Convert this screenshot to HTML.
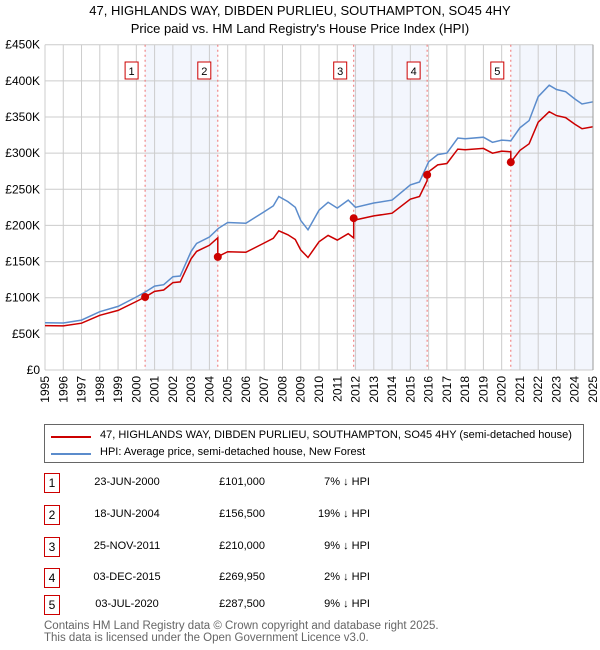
<!DOCTYPE html>
<html><head><meta charset="utf-8"><style>
body{margin:0;background:#fff;font-family:"Liberation Sans","DejaVu Sans",sans-serif;}
#wrap{position:relative;width:600px;height:650px;overflow:hidden}
.t{position:absolute;font-size:12px;color:#000;white-space:nowrap}
.box{position:absolute;width:14px;height:18px;border:1px solid #c00;font-size:12px;text-align:center;line-height:18px}
</style></head><body><div id="wrap">
<div class="t" style="left:0;width:600px;text-align:center;top:3px;font-size:13px">47, HIGHLANDS WAY, DIBDEN PURLIEU, SOUTHAMPTON, SO45 4HY</div>
<div class="t" style="left:0;width:600px;text-align:center;top:21px;font-size:13px">Price paid vs. HM Land Registry's House Price Index (HPI)</div>
<svg id="chart" width="600" height="420" style="position:absolute;left:0;top:0"></svg>
<div style="position:absolute;left:44px;top:424px;width:538px;height:37px;border:1px solid #666"></div>
<div style="position:absolute;left:51px;top:436px;width:40px;height:2px;background:#c00"></div>
<div class="t" style="left:100px;top:429px;font-size:11px">47, HIGHLANDS WAY, DIBDEN PURLIEU, SOUTHAMPTON, SO45 4HY (semi-detached house)</div>
<div style="position:absolute;left:51px;top:453px;width:40px;height:2px;background:#5b8ccc"></div>
<div class="t" style="left:100px;top:446px;font-size:11px">HPI: Average price, semi-detached house, New Forest</div>
<div id="table"></div>
<div class="t" style="left:44px;top:620px;color:#666;font-size:11.5px;line-height:12px">Contains HM Land Registry data © Crown copyright and database right 2025.<br>This data is licensed under the Open Government Licence v3.0.</div>
</div>
<script>
const hpiYears=[1995,1996,1997,1998,1999,2000,2000.5,2001,2001.5,2002,2002.4,2003,2003.3,2004,2004.5,2005,2006,2007,2007.5,2007.8,2008.3,2008.7,2009,2009.4,2010,2010.5,2011,2011.6,2012,2013,2014,2015,2015.5,2016,2016.5,2017,2017.6,2018,2019,2019.5,2020,2020.5,2021,2021.5,2022,2022.6,2023,2023.5,2024,2024.4,2025];
const hpiValues=[65.5,65,69,80.7,88,101,108,116,118,129,130,164,175,184,196,204,203,219,227,240,233,225,207,194,221,232,224,235,225,231,235,256,260,288,298,300,321,320,322,315,318,317,335,345,378,394,388,385,375,368,371];
const saleLabels=["1","2","3","4","5"];
const saleDates=["23-JUN-2000","18-JUN-2004","25-NOV-2011","03-DEC-2015","03-JUL-2020"];
const saleYears=[2000.48,2004.46,2011.9,2015.92,2020.5];
const salePrices=[101000,156500,210000,269950,287500];
const salePct=["7%","19%","9%","2%","9%"];
const yTicks=[0,50,100,150,200,250,300,350,400,450];
const xTicks=[1995,1996,1997,1998,1999,2000,2001,2002,2003,2004,2005,2006,2007,2008,2009,2010,2011,2012,2013,2014,2015,2016,2017,2018,2019,2020,2021,2022,2023,2024,2025];

const X0=45,X1=593,Y0=370,Y1=44.7;
const xs=y=>X0+(y-1995)/30*(X1-X0);
const ys=v=>Y0-v/450*(Y0-Y1);
const NS="http://www.w3.org/2000/svg";
const svg=document.getElementById('chart');
function mk(tag,attrs,parent){const e=document.createElementNS(NS,tag);for(const k in attrs)e.setAttribute(k,attrs[k]);(parent||svg).appendChild(e);return e;}
function hpiAt(y){for(let i=0;i<hpiYears.length-1;i++){if(y<=hpiYears[i+1]){const t=(y-hpiYears[i])/(hpiYears[i+1]-hpiYears[i]);return hpiValues[i]+t*(hpiValues[i+1]-hpiValues[i]);}}return hpiValues[hpiValues.length-1];}
const shadeStart=[saleYears[0],saleYears[2],saleYears[4]];
const shadeEnd=[saleYears[1],saleYears[3],2025];
for(let i=0;i<shadeStart.length;i++){
 const r=mk('rect',{x:xs(shadeStart[i]),y:Y1,width:xs(shadeEnd[i])-xs(shadeStart[i]),height:Y0-Y1,fill:'#f3f6fd'});
 
 
}
xTicks.forEach(t=>{
 const l=mk('line',{x1:xs(t),x2:xs(t),y1:Y1,y2:Y0,stroke:'#ccc','stroke-width':1});
 
 
 const tx=mk('text',{x:0,y:0,'font-size':12,'text-anchor':'end',transform:`translate(${xs(t)+4},${Y0+6}) rotate(-90)`,'font-family':'Liberation Sans, sans-serif'});
 tx.textContent=t;
 
 
});
yTicks.forEach(t=>{
 const l=mk('line',{x1:X0,x2:X1,y1:ys(t),y2:ys(t),stroke:'#ccc','stroke-width':1});
 
 
 const tx=mk('text',{x:40,y:ys(t)+4,'font-size':12,'text-anchor':'end','font-family':'Liberation Sans, sans-serif'});
 tx.textContent=t===0?'£0':'£'+t+'K';
 
 
});
saleYears.forEach((s,i)=>{
 const l=mk('line',{x1:xs(s),x2:xs(s),y1:Y1,y2:Y0,stroke:'#f07070','stroke-width':1,'stroke-dasharray':'2,3'});
 
 
 const r=mk('rect',{x:xs(s)-20,y:62,width:13,height:17,fill:'#fff',stroke:'#c00'});
 
 
 const tx=mk('text',{x:xs(s)-13.5,y:75,'font-size':11,'text-anchor':'middle','font-family':'Liberation Sans, sans-serif'});
 tx.textContent=saleLabels[i];
 
 
});
let d='';hpiYears.forEach((y,i)=>{d+=(i?'L':'M')+xs(y).toFixed(1)+','+ys(hpiValues[i]).toFixed(1);});
const hp=mk('path',{d,fill:'none',stroke:'#5b8ccc','stroke-width':1.5});


const ratios=saleYears.map((s,i)=>salePrices[i]/1000/hpiAt(s));
const pts=[];
hpiYears.forEach((y,i)=>{
 saleYears.forEach((s,k)=>{if(s>(i?hpiYears[i-1]:0)&&s<=y){const prev=k?ratios[k-1]:ratios[0];pts.push([s,hpiAt(s)*prev]);pts.push([s,salePrices[k]/1000]);}});
 let k=-1;saleYears.forEach((s,j)=>{if(s<=y)k=j;});
 pts.push([y,hpiValues[i]*ratios[Math.max(k,0)]]);
});
let d2='';pts.forEach((p,i)=>{d2+=(i?'L':'M')+xs(p[0]).toFixed(1)+','+ys(p[1]).toFixed(1);});
const rp=mk('path',{d:d2,fill:'none',stroke:'#c00','stroke-width':1.5});


saleYears.forEach((s,i)=>{
 const c=mk('circle',{cx:xs(s),cy:ys(salePrices[i]/1000),r:4,fill:'#c00'});
 
 
});
mk('line',{x1:X1,x2:X1,y1:Y1,y2:Y0,stroke:'#999','stroke-width':1});
const tb=document.getElementById('table');
const rowY=[473,505,537,568,595];
saleLabels.forEach((lab,i)=>{
 const y=rowY[i];
 const b=document.createElement('div');b.className='box';b.style.left='44px';b.style.top=y+'px';b.textContent=lab;
 
 
 tb.appendChild(b);
 const cells=[[saleDates[i],92,'center',70],['£'+salePrices[i].toLocaleString('en-GB'),190,'right',75],[salePct[i]+' ↓ HPI',300,'right',70]];
 cells.forEach(c=>{const e=document.createElement('div');e.className='t';e.style.left=c[1]+'px';e.style.width=c[3]+'px';e.style.textAlign=c[2];e.style.top=(y+3)+'px';e.style.fontSize='11px';e.textContent=c[0];
 
 
 tb.appendChild(e);});
});
</script></body></html>
